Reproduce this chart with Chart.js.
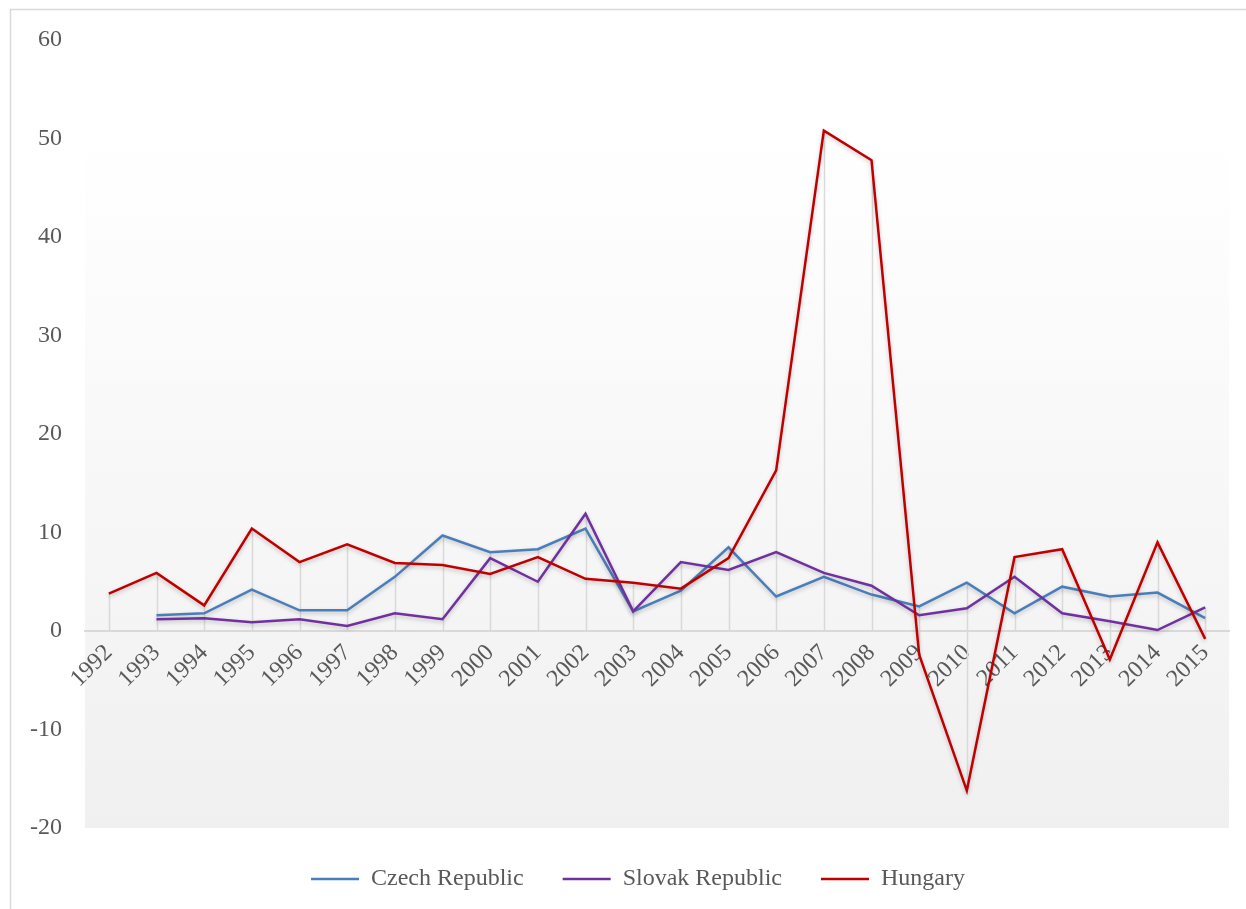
<!DOCTYPE html>
<html>
<head>
<meta charset="utf-8">
<style>
  html, body { margin: 0; padding: 0; background: #fff; }
  #wrap { position: relative; width: 1246px; height: 909px; }
</style>
<script src="https://cdn.jsdelivr.net/npm/chart.js@4.4.1/dist/chart.umd.min.js"></script>
</head>
<body>
<div id="wrap"><canvas id="chart" width="1246" height="909"></canvas></div>
<script>
// Años y series
const years = ['1992', '1993', '1994', '1995', '1996', '1997', '1998', '1999', '2000', '2001', '2002',
  '2003', '2004', '2005', '2006', '2007', '2008', '2009', '2010', '2011', '2012', '2013', '2014', '2015'];

const czech = [null, 1.6, 1.8, 4.2, 2.1, 2.1, 5.5, 9.7, 8.0, 8.3, 10.4, 2.0,
  4.1, 8.5, 3.5, 5.5, 3.7, 2.5, 4.9, 1.8, 4.5, 3.5, 3.9, 1.3];

const slovak = [null, 1.2, 1.3, 0.9, 1.2, 0.5, 1.8, 1.2, 7.4, 5.0, 11.9, 2.0,
  7.0, 6.2, 8.0, 5.9, 4.6, 1.6, 2.3, 5.5, 1.8, 1.0, 0.1, 2.4];

const hungary = [3.8, 5.9, 2.6, 10.4, 7.0, 8.8, 6.9, 6.7, 5.8, 7.5, 5.3, 4.9,
  4.3, 7.4, 16.3, 50.8, 47.8, -2.4, -16.2, 7.5, 8.3, -2.9, 9.0, -0.8];

const yTicks = [-20, -10, 0, 10, 20, 30, 40, 50, 60];

const FONT = { family: '"Liberation Serif", "Times New Roman", serif', size: 24 };
const TEXT = '#595959';
const GRAY = '#d9d9d9';

// Fondo degradado del área de trazado y marco del gráfico
const backgroundPlugin = {
  id: 'plotBackground',
  afterLayout(chart) {
    // leyenda centrada un poco a la derecha del centro del lienzo
    chart.legend.left += 40;
  },
  beforeDraw(chart) {
    const { ctx, chartArea: a } = chart;
    ctx.save();
    const g = ctx.createLinearGradient(0, a.top, 0, a.bottom);
    g.addColorStop(0, '#ffffff');
    g.addColorStop(0.12, '#ffffff');
    g.addColorStop(1, '#f0f0f0');
    ctx.fillStyle = g;
    ctx.fillRect(a.left, a.top, a.right - a.left, a.bottom - a.top);

    ctx.strokeStyle = GRAY;
    ctx.lineWidth = 1.5;
    ctx.beginPath();
    ctx.moveTo(10.5, chart.height);
    ctx.lineTo(10.5, 9.5);
    ctx.lineTo(chart.width, 9.5);
    ctx.stroke();
    ctx.restore();
  }
};

// Líneas de caída: del valor más alto al más bajo de cada año, pasando por cero
const dropLinesPlugin = {
  id: 'dropLines',
  beforeDatasetsDraw(chart) {
    const { ctx, scales: { x, y } } = chart;
    ctx.save();
    ctx.strokeStyle = GRAY;
    ctx.lineWidth = 1.5;
    years.forEach((yr, i) => {
      const vals = chart.data.datasets.map(d => d.data[i]).filter(v => v !== null);
      if (!vals.length) return;
      const top = Math.max(0, ...vals);
      const bottom = Math.min(0, ...vals);
      const px = Math.round(x.getPixelForValue(i)) + 0.5;
      ctx.beginPath();
      ctx.moveTo(px, y.getPixelForValue(top));
      ctx.lineTo(px, y.getPixelForValue(bottom));
      ctx.stroke();
    });
    ctx.restore();
    // sombra suave bajo las series
    ctx.save();
    ctx.shadowColor = 'rgba(0, 0, 0, 0.22)';
    ctx.shadowBlur = 4;
    ctx.shadowOffsetY = 2;
  },
  afterDatasetsDraw(chart) {
    chart.ctx.restore();
  }
};

new Chart(document.getElementById('chart'), {
  type: 'line',
  data: {
    labels: years,
    datasets: [
      { label: 'Czech Republic', data: czech, borderColor: '#4a7ebb', backgroundColor: '#4a7ebb', order: 2 },
      { label: 'Slovak Republic', data: slovak, borderColor: '#7030a0', backgroundColor: '#7030a0', order: 1 },
      { label: 'Hungary', data: hungary, borderColor: '#c00000', backgroundColor: '#c00000', order: 0 }
    ]
  },
  options: {
    responsive: false,
    animation: false,
    layout: { padding: { left: 7, right: 17, top: 40, bottom: 8 } },
    elements: {
      line: { borderWidth: 2.5, tension: 0, fill: false },
      point: { radius: 0, hoverRadius: 0 }
    },
    plugins: {
      legend: {
        position: 'bottom',
        labels: {
          font: FONT,
          color: TEXT,
          boxWidth: 48,
          boxHeight: 0,
          padding: 39,
          sort: (a, b) => a.datasetIndex - b.datasetIndex
        }
      },
      tooltip: { enabled: false }
    },
    scales: {
      x: {
        position: { y: 0 },
        offset: true,
        afterFit(scale) {
          scale.paddingLeft = 0;
          scale.paddingRight = 0;
        },
        grid: { display: false, drawTicks: false },
        border: { display: true, color: GRAY, width: 2 },
        ticks: {
          font: FONT,
          color: TEXT,
          minRotation: 45,
          maxRotation: 45,
          autoSkip: false,
          padding: 8
        }
      },
      y: {
        min: -20,
        max: 60,
        afterBuildTicks(scale) {
          scale.ticks = yTicks.map(v => ({ value: v }));
        },
        afterFit(scale) {
          // ancho fijo del eje: área de trazado a partir de x = 85
          scale.width = 78;
        },
        grid: { display: false, drawTicks: false },
        border: { display: false },
        ticks: { font: FONT, color: TEXT, padding: 23 }
      }
    }
  },
  plugins: [backgroundPlugin, dropLinesPlugin]
});
</script>
</body>
</html>
